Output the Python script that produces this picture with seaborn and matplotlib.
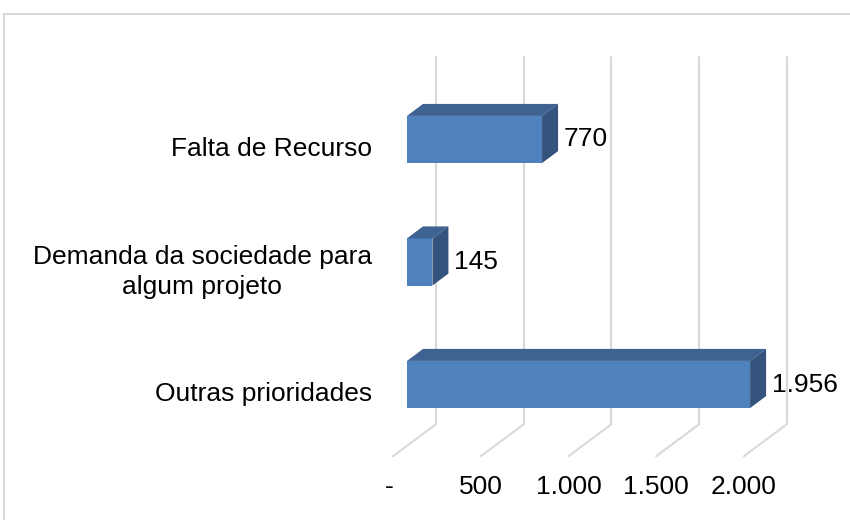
"""Barras horizontais com efeito 3D no estilo de planilha."""
import matplotlib

matplotlib.use("Agg")
import matplotlib.pyplot as plt
import seaborn as sns
from matplotlib.patches import Polygon, Rectangle

categorias = ["Falta de Recurso", "Demanda da sociedade para\nalgum projeto", "Outras prioridades"]
valores = [770, 145, 1956]
ticks = [0, 500, 1000, 1500, 2000]
rotulos_ticks = ["- ", "500", "1.000", "1.500", "2.000"]

AZUL = "#4F81BD"
AZUL_TOPO = "#3E6291"
AZUL_LADO = "#34537D"
GRADE = "#D9D9D9"

sns.set_style("white")
plt.rcParams["font.family"] = ["Liberation Sans", "DejaVu Sans"]
plt.rcParams["font.size"] = 19
plt.rcParams["text.color"] = "#000000"

fig = plt.figure(figsize=(8.5, 5.2), dpi=100)
ax = fig.add_axes([0, 0, 1, 1])
sns.barplot(x=valores, y=categorias, orient="h", color=AZUL, saturation=1,
            width=0.385, linewidth=0, ax=ax, zorder=3)

# escala: px por unidade no plano frontal das barras
escala, x0_px = 0.1754, 407
passo_cat, y0_px = 122.5, 139.5
ax.set_xlim(-x0_px / escala, (850 - x0_px) / escala)
ax.set_ylim((520 - y0_px) / passo_cat, -y0_px / passo_cat)
ax.set_axis_off()


def desloc(dx, dy):
    """Converte deslocamento em pixels (dy para baixo) em unidades de dados."""
    inv = ax.transData.inverted()
    a = inv.transform((0, 0))
    b = inv.transform((dx, -dy))
    return b[0] - a[0], b[1] - a[1]


# paredes: fundo e piso em perspectiva
fundo = desloc(29, -21.5)
piso = desloc(-14, 10.5)
n = len(categorias)
topo, base = -0.5, n - 0.5
desc_tick = desloc(0, 31)[1]
for t, rot in zip(ticks, rotulos_ticks):
    ax.plot([t + fundo[0]] * 2, [topo + fundo[1], base + fundo[1]], color=GRADE, lw=1.5, zorder=1)
    ax.plot([t + fundo[0], t + piso[0]], [base + fundo[1], base + piso[1]], color=GRADE, lw=1.5, zorder=1)
    ax.text(t + piso[0], base + piso[1] + desc_tick, rot, ha="center", va="center")

# faces de topo e lateral de cada barra
prof = desloc(16, -12)
for p in list(ax.patches):
    xa, w, ya, h = p.get_x(), p.get_width(), p.get_y(), p.get_height()
    y_sup, y_inf = min(ya, ya + h), max(ya, ya + h)
    xb = xa + w
    ax.add_patch(Polygon([(xa, y_sup), (xb, y_sup), (xb + prof[0], y_sup + prof[1]),
                          (xa + prof[0], y_sup + prof[1])], closed=True,
                         facecolor=AZUL_TOPO, edgecolor="none", zorder=3))
    ax.add_patch(Polygon([(xb, y_sup), (xb, y_inf), (xb + prof[0], y_inf + prof[1]),
                          (xb + prof[0], y_sup + prof[1])], closed=True,
                         facecolor=AZUL_LADO, edgecolor="none", zorder=3))

# rótulos
dx_valor = desloc(22, 0)[0]
dx_cat = desloc(-35, 0)[0]
dy_cat = desloc(0, 10)[1]
for k, (cat, v) in enumerate(zip(categorias, valores)):
    ax.text(v + dx_valor, k, f"{v:,}".replace(",", "."), ha="left", va="center")
    ax.text(dx_cat, k + dy_cat, cat, ha="right", va="center",
            multialignment="center", linespacing=1.35)

# moldura externa
fig.add_artist(Rectangle((4 / 850, -0.5), 2, 0.5 + 1 - 14 / 520, transform=fig.transFigure,
                         fill=False, edgecolor=GRADE, lw=1.5))

fig.savefig("out.png", dpi=100)
